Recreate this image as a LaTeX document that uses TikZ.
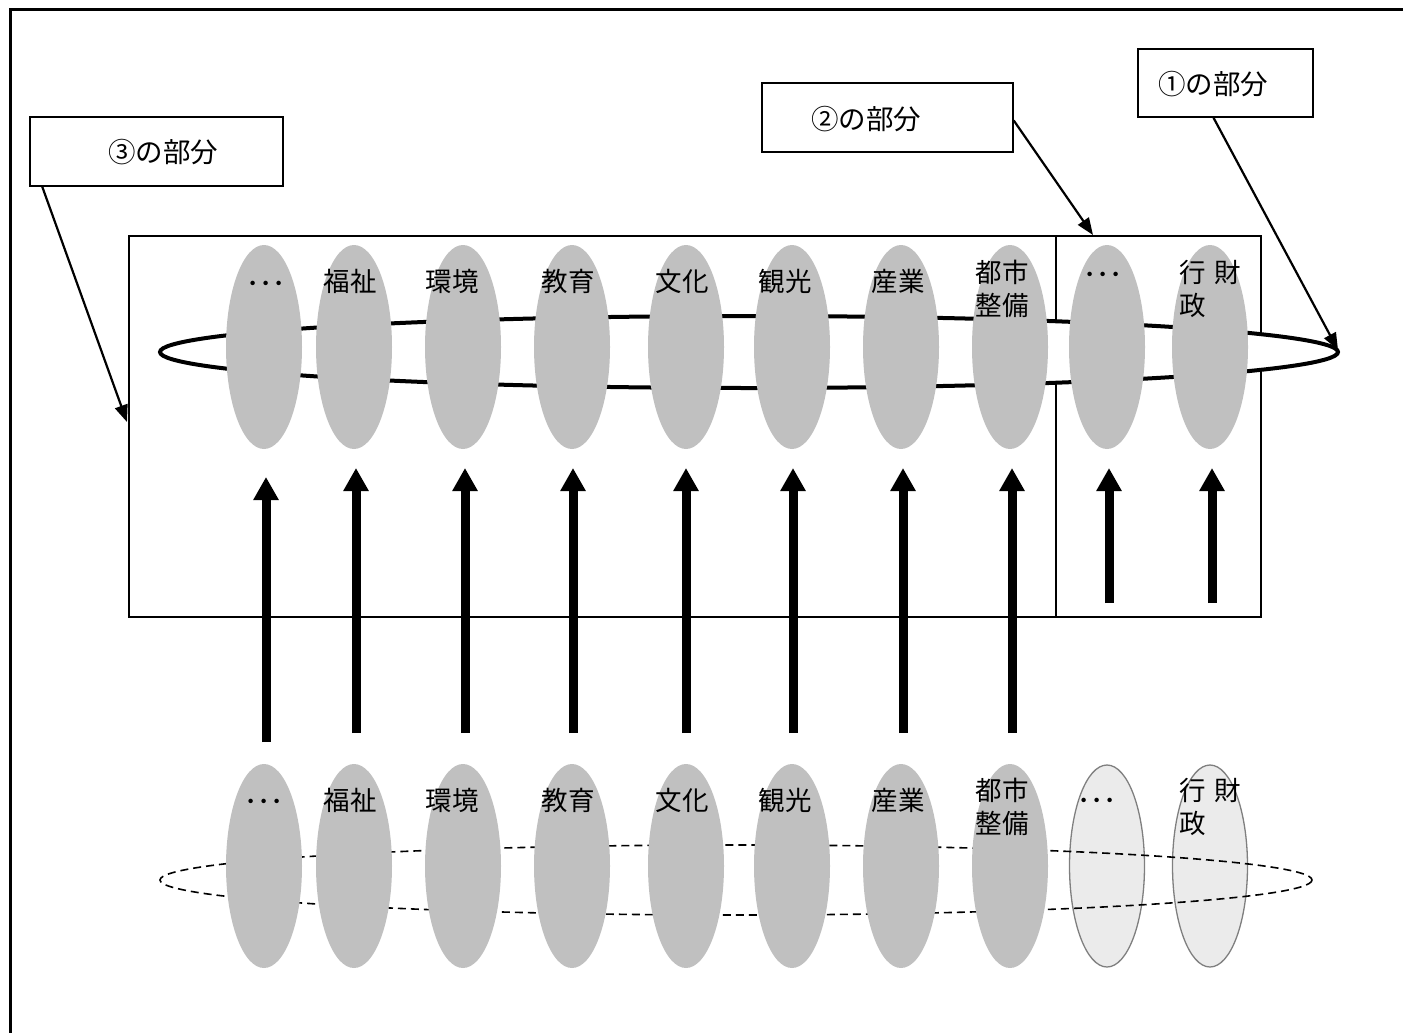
\documentclass[tikz,border=0pt]{standalone}
\usepackage{fontspec}
\setmainfont{Noto Sans CJK JP}
\usetikzlibrary{shapes.geometric,arrows.meta}
\definecolor{blobgray}{HTML}{C0C0C0}
\definecolor{blobpale}{HTML}{EBEBEB}
\definecolor{blobedge}{HTML}{7F7F7F}
\tikzset{
  blob/.style={ellipse, fill=blobgray, minimum width=76pt, minimum height=204pt, inner sep=0pt},
  paleblob/.style={ellipse, fill=blobpale, draw=blobedge, line width=1.3pt, minimum width=75pt, minimum height=202pt, inner sep=0pt},
  lbl/.style={font=\fontsize{26.5}{33}\selectfont, inner sep=0pt, align=left},
  labbox/.style={draw, line width=1.5pt, inner sep=0pt},
  boxtext/.style={font=\fontsize{27.5}{30}\selectfont, inner sep=0pt},
  uparrow/.style={line width=9pt, -{Triangle[width=24pt,length=23pt]}},
  callout/.style={line width=2.2pt, -{Triangle[width=13pt,length=17pt]}},
  ring/.style={line width=4pt, fill=white},
  dashring/.style={line width=1.6pt, dash pattern=on 8pt off 5pt}
}
\newcommand{\gapsp}{\hspace{9pt}}
\begin{document}
\begin{tikzpicture}[x=1pt,y=-1pt]
\useasboundingbox (0,0) rectangle (1403,1033);
% outer frame (only top and left visible)
\draw[line width=3pt] (10,1040) -- (10,10) -- (1410,10);

% big rectangle and divider
\draw[line width=1.5pt] (129,236) rectangle (1261,617);
\draw[line width=1.5pt] (1056,236) -- (1056,617);

% top ring (white filled)
\draw[ring] (749,352) ellipse [x radius=589, y radius=36];

% top ellipses
\foreach \i/\x in {1/264,2/354,3/463,4/572,5/686,6/792,7/901,8/1010,9/1107,10/1210}
  \node[blob] (t\i) at (\x,347) {};

% bottom pale ellipses
\node[paleblob] (b9) at (1107,866) {};
\node[paleblob] (b10) at (1210,866) {};
% bottom dashed ring
\draw[dashring] (736,880) ellipse [x radius=576, y radius=35];
% bottom gray ellipses
\foreach \i/\x in {1/264,2/354,3/463,4/572,5/686,6/792,7/901,8/1010}
  \node[blob] (b\i) at (\x,866) {};

% top labels
\node[lbl] (lt1) at (266,287) {･･･};
\node[lbl] (lt2) at (350,281) {福祉};
\node[lbl] (lt3) at (452,281) {環境};
\node[lbl] (lt4) at (568,281) {教育};
\node[lbl] (lt5) at (682,281) {文化};
\node[lbl] (lt6) at (785,281) {観光};
\node[lbl] (lt7) at (898,281) {産業};
\node[lbl] (lt8) at (1002,289) {都市\\整備};
\node[lbl] (lt9) at (1103,278) {･･･};
\node[lbl] (lt10) at (1210,289) {行\gapsp 財\\政};

% bottom labels
\node[lbl] (lb1) at (264,805) {･･･};
\node[lbl] (lb2) at (350,800) {福祉};
\node[lbl] (lb3) at (452,800) {環境};
\node[lbl] (lb4) at (568,800) {教育};
\node[lbl] (lb5) at (682,800) {文化};
\node[lbl] (lb6) at (785,800) {観光};
\node[lbl] (lb7) at (898,800) {産業};
\node[lbl] (lb8) at (1002,807) {都市\\整備};
\node[lbl] (lb9) at (1097,804) {･･･};
\node[lbl] (lb10) at (1210,807) {行\gapsp 財\\政};

% upward arrows
\coordinate (s1) at (266,742); \coordinate (e1) at (266,477);
\foreach \i/\x in {2/356,3/465,4/573,5/686,6/793,7/903,8/1012}{
  \coordinate (s\i) at (\x,733); \coordinate (e\i) at (\x,468);
}
\coordinate (s9) at (1109,603); \coordinate (e9) at (1109,468);
\coordinate (s10) at (1212,603); \coordinate (e10) at (1212,468);
\foreach \i in {1,...,10}
  \draw[uparrow] (s\i) -- (e\i);

% label boxes
\node[labbox, minimum width=253pt, minimum height=69pt] (box3) at (156.5,151.5) {};
\node[boxtext] (txt3) at (163,152) {③の部分};
\node[labbox, minimum width=251pt, minimum height=69pt] (box2) at (887.5,117.5) {};
\node[boxtext] (txt2) at (866,119) {②の部分};
\node[labbox, minimum width=175pt, minimum height=68pt] (box1) at (1225.5,83) {};
\node[boxtext] (txt1) at (1213,84) {①の部分};

% callout arrows
\coordinate (c3) at (127,422);
\coordinate (c2) at (1093,235);
\coordinate (c1) at (1338,350);
\draw[callout] ([xshift=13pt]box3.south west) -- (c3);
\draw[callout] ([yshift=-3pt]box2.east) -- (c2);
\draw[callout] ([xshift=-12pt]box1.south) -- (c1);
\end{tikzpicture}
\end{document}
